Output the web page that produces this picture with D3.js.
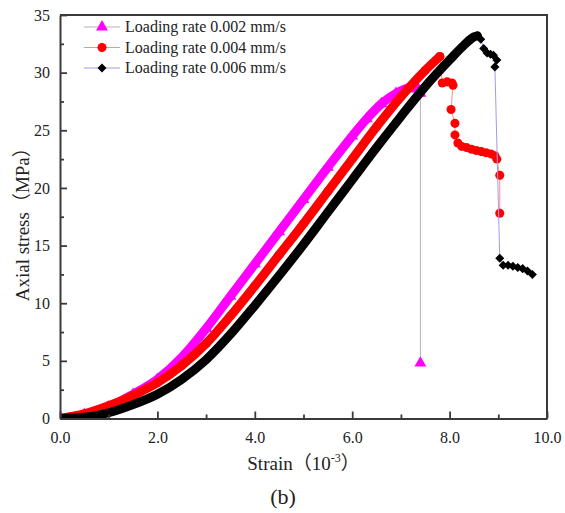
<!DOCTYPE html>
<html>
<head>
<meta charset="utf-8">
<script src="https://cdn.jsdelivr.net/npm/d3@7"></script>
<style>
  body { margin: 0; background: #fff; }
  svg { display: block; }
</style>
</head>
<body>
<svg id="chart" width="565" height="513"></svg>
<script>
// strain (10^-3), axial stress (MPa)
const rate002Rise = [
  [0, 0], [0.5, 0.35], [1.0, 1.0], [1.5, 2.1], [2.0, 3.4], [2.5, 5.3], [3.0, 7.8],
  [3.5, 10.6], [4.0, 13.4], [4.5, 16.2], [5.0, 19.0], [5.5, 21.8], [6.0, 24.5],
  [6.3, 26.0], [6.6, 27.3], [6.9, 28.2], [7.2, 28.7], [7.35, 28.6], [7.4, 28.2]
];
const rate002Tail = [[7.4, 4.8]];

const rate004Rise = [
  [0, 0], [0.5, 0.4], [1.0, 1.1], [1.5, 2.0], [2.0, 3.1], [2.5, 4.6], [3.0, 6.5],
  [3.5, 8.9], [4.0, 11.5], [4.5, 14.2], [5.0, 16.9], [5.5, 19.7], [6.0, 22.5],
  [6.5, 25.3], [7.0, 27.9], [7.5, 30.2], [7.8, 31.4]
];
const rate004Tail = [
  [7.85, 29.1], [7.95, 29.2], [8.05, 29.1], [8.07, 28.9], [8.03, 26.8], [8.11, 25.6],
  [8.11, 24.6], [8.17, 23.9], [8.25, 23.6], [8.35, 23.5], [8.45, 23.35], [8.55, 23.25],
  [8.65, 23.15], [8.75, 23.05], [8.85, 22.95], [8.93, 22.8], [8.97, 22.5], [9.03, 21.1],
  [9.03, 17.8]
];

const rate006Rise = [
  [0, 0], [0.5, 0.1], [1.0, 0.5], [1.5, 1.2], [2.0, 2.1], [2.5, 3.4], [3.0, 5.1],
  [3.5, 7.3], [4.0, 9.8], [4.5, 12.4], [5.0, 15.1], [5.5, 17.9], [6.0, 20.7],
  [6.5, 23.5], [7.0, 26.2], [7.5, 28.8], [8.0, 31.1], [8.3, 32.4], [8.5, 33.1], [8.57, 33.2]
];
const rate006Tail = [
  [8.64, 32.9], [8.7, 32.1], [8.77, 31.7], [8.84, 31.6], [8.9, 31.5], [8.97, 31.1],
  [8.93, 30.5], [9.03, 13.9], [9.1, 13.3], [9.2, 13.3], [9.3, 13.2], [9.4, 13.1],
  [9.5, 13.0], [9.6, 12.8], [9.7, 12.5]
];

const seriesNames = ['Loading rate 0.002 mm/s', 'Loading rate 0.004 mm/s', 'Loading rate 0.006 mm/s'];
const xTicks = [0, 2, 4, 6, 8, 10];
const xMinorTicks = [1, 3, 5, 7, 9];
const yTicks = [0, 5, 10, 15, 20, 25, 30, 35];
const yMinorTicks = [2.5, 7.5, 12.5, 17.5, 22.5, 27.5, 32.5];

const FONT = "'Liberation Serif', 'Times New Roman', 'Noto Sans CJK SC', serif";

const STYLES = [
  { color: '#ff00ff', line: '#b4b4b4', symbol: d3.symbolTriangle, size: 62 },
  { color: '#ff0000', line: '#ff8c8c', symbol: d3.symbolCircle, size: 64 },
  { color: '#000000', line: '#9c9cf0', symbol: d3.symbolDiamond2 || d3.symbolDiamond, size: 52 }
];

const series = [
  { name: seriesNames[0], rise: rate002Rise, tail: rate002Tail, ...STYLES[0] },
  { name: seriesNames[1], rise: rate004Rise, tail: rate004Tail, ...STYLES[1] },
  { name: seriesNames[2], rise: rate006Rise, tail: rate006Tail, ...STYLES[2] }
];

const plotLeft = 60, plotRight = 547, plotTop = 15, plotBottom = 418.5;

const svg = d3.select('#chart');

const x = d3.scaleLinear().domain([0, 10]).range([plotLeft, plotRight]);
const y = d3.scaleLinear().domain([0, 35]).range([plotBottom, plotTop]);

svg.append('defs').append('clipPath').attr('id', 'plotClip')
  .append('rect')
  .attr('x', plotLeft).attr('y', plotTop - 6)
  .attr('width', plotRight - plotLeft).attr('height', plotBottom - plotTop + 6);

const plot = svg.append('g').attr('clip-path', 'url(#plotClip)');

const thinLine = d3.line().x(d => x(d[0])).y(d => y(d[1]));
const bandLine = d3.line().x(d => x(d[0])).y(d => y(d[1])).curve(d3.curveMonotoneX);

series.forEach(s => {
  const g = plot.append('g');
  // thin connecting line through every point
  g.append('path')
    .attr('d', thinLine(s.rise.concat(s.tail)))
    .attr('fill', 'none')
    .attr('stroke', s.line)
    .attr('stroke-width', 1);
  // dense run of markers reads as a solid band
  g.append('path')
    .attr('d', bandLine(s.rise))
    .attr('fill', 'none')
    .attr('stroke', s.color)
    .attr('stroke-width', 9)
    .attr('stroke-linecap', 'round')
    .attr('stroke-linejoin', 'round');
  g.selectAll('path.mark')
    .data(s.rise.concat(s.tail))
    .enter()
    .append('path')
    .attr('class', 'mark')
    .attr('transform', d => 'translate(' + x(d[0]) + ',' + y(d[1]) + ')')
    .attr('d', d3.symbol().type(s.symbol).size(s.size))
    .attr('fill', s.color);
});

// axes, ticks pointing inward
const axisColor = '#3a3a3a';

svg.append('g')
  .attr('transform', 'translate(0,' + plotBottom + ')')
  .call(d3.axisBottom(x).tickValues(xTicks).tickFormat(d3.format('.1f'))
    .tickSizeInner(-7).tickSizeOuter(0).tickPadding(13));
svg.append('g')
  .attr('transform', 'translate(0,' + plotBottom + ')')
  .call(d3.axisBottom(x).tickValues(xMinorTicks).tickFormat('')
    .tickSizeInner(-4).tickSizeOuter(0))
  .call(g => g.select('.domain').remove());

svg.append('g')
  .attr('transform', 'translate(' + plotLeft + ',0)')
  .call(d3.axisLeft(y).tickValues(yTicks).tickFormat(d3.format('d'))
    .tickSizeInner(-7).tickSizeOuter(0).tickPadding(10));
svg.append('g')
  .attr('transform', 'translate(' + plotLeft + ',0)')
  .call(d3.axisLeft(y).tickValues(yMinorTicks).tickFormat('')
    .tickSizeInner(-4).tickSizeOuter(0))
  .call(g => g.select('.domain').remove());

svg.selectAll('.tick line').attr('stroke', axisColor).attr('stroke-width', 1.8);
svg.selectAll('.domain').attr('stroke', axisColor).attr('stroke-width', 2);
svg.selectAll('.tick text')
  .attr('font-family', FONT)
  .attr('font-size', 16)
  .attr('fill', '#222');

// frame on top and right
svg.append('path')
  .attr('d', 'M' + plotLeft + ',' + plotTop + 'H' + plotRight + 'V' + plotBottom)
  .attr('fill', 'none')
  .attr('stroke', axisColor)
  .attr('stroke-width', 2);

// legend
const legend = svg.append('g');
series.forEach((s, i) => {
  const ly = 27 + i * 20.5;
  legend.append('line')
    .attr('x1', 84).attr('x2', 120)
    .attr('y1', ly).attr('y2', ly)
    .attr('stroke', s.line).attr('stroke-width', 1);
  legend.append('path')
    .attr('transform', 'translate(102,' + ly + ')')
    .attr('d', d3.symbol().type(s.symbol).size(s.size))
    .attr('fill', s.color);
  legend.append('text')
    .attr('x', 125).attr('y', ly + 5)
    .attr('font-family', FONT)
    .attr('font-size', 16)
    .attr('fill', '#222')
    .text(s.name);
});

// axis titles
svg.append('text')
  .attr('transform', 'translate(29,' + ((plotTop + plotBottom) / 2 + 3) + ') rotate(-90)')
  .attr('text-anchor', 'middle')
  .attr('font-family', FONT)
  .attr('font-size', 19)
  .attr('fill', '#222')
  .text('Axial stress（MPa）');

const xTitle = svg.append('text')
  .attr('x', (plotLeft + plotRight) / 2)
  .attr('y', 470)
  .attr('text-anchor', 'middle')
  .attr('font-family', FONT)
  .attr('font-size', 19)
  .attr('fill', '#222');
xTitle.append('tspan').text('Strain（10');
xTitle.append('tspan').attr('dy', -8).attr('font-size', 12).text('-3');
xTitle.append('tspan').attr('dy', 8).text('）');

svg.append('text')
  .attr('x', 283)
  .attr('y', 504)
  .attr('text-anchor', 'middle')
  .attr('font-family', FONT)
  .attr('font-size', 22)
  .attr('fill', '#222')
  .text('(b)');
</script>
</body>
</html>
